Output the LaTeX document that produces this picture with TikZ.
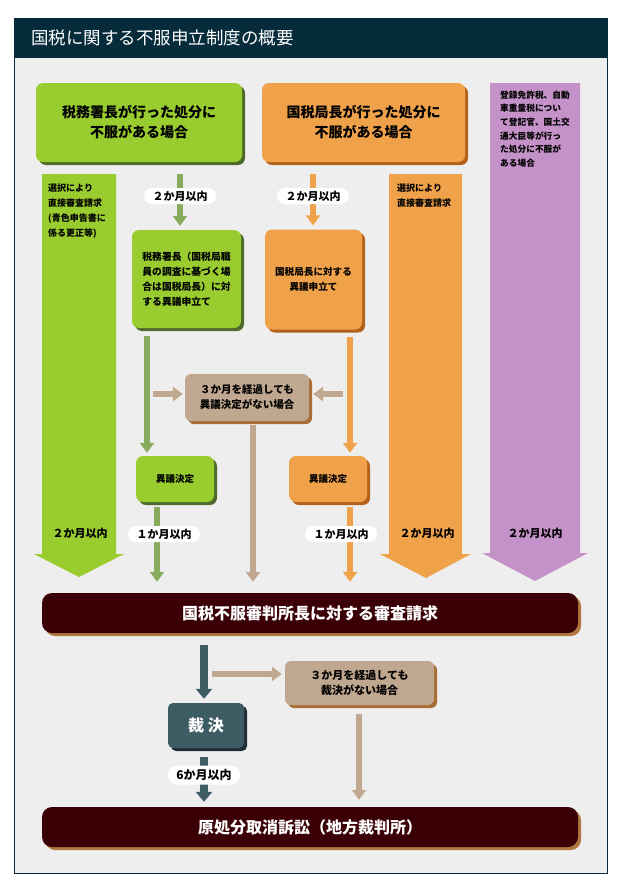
\documentclass[tikz,border=0pt]{standalone}
\usepackage{fontspec}
\setmainfont{Noto Sans CJK JP}
\usetikzlibrary{arrows.meta,shadows,calc}
\definecolor{bgc}{HTML}{EEEEEE}
\definecolor{hdr}{HTML}{062C3C}
\definecolor{gfill}{HTML}{99CC2E}
\definecolor{gshad}{HTML}{4E6B2C}
\definecolor{garr}{HTML}{88AA5C}
\definecolor{ofill}{HTML}{F0A24A}
\definecolor{oshad}{HTML}{B5611E}
\definecolor{pfill}{HTML}{C492C9}
\definecolor{tfill}{HTML}{C0A78F}
\definecolor{tshad}{HTML}{A76E36}
\definecolor{dbar}{HTML}{3A0006}
\definecolor{dshad}{HTML}{B07840}
\definecolor{tealc}{HTML}{3E5C64}
\definecolor{tealshad}{HTML}{1E3035}
\newcommand\fsz[2]{\fontsize{#1}{#2}\selectfont\bfseries}
\begin{document}
\begin{tikzpicture}[x=1pt,y=-1pt,
  box/.style={rounded corners=7pt,inner sep=0pt,align=center},
  shad/.style={drop shadow={shadow xshift=3pt,shadow yshift=-3pt,fill=#1,opacity=1}},
  gbox/.style={box,fill=gfill,shad=gshad},
  obox/.style={box,fill=ofill,shad=oshad},
  tbox/.style={box,fill=tfill,shad=tshad,rounded corners=6pt},
  dbox/.style={box,fill=dbar,shad=dshad,rounded corners=10pt,text=white,minimum width=536pt,minimum height=40pt,font=\fsz{16}{16}},
  conn/.style={line width=6.5pt,-{Triangle[width=14pt,length=10pt]}},
  tconn/.style={line width=8pt,-{Triangle[width=16pt,length=10pt]}},
  pill/.style={fill=white,rounded corners=8pt,minimum width=72pt,minimum height=16pt,inner sep=0pt,font=\fsz{11}{11}},
  atxt/.style={inner sep=0pt,align=left,anchor=north west}
]
\useasboundingbox (0,0) rectangle (620,889);
\fill[white] (0,0) rectangle (620,889);
% frame
\fill[bgc] (14,18) rectangle (607.5,873);
\fill[hdr] (14,18) rectangle (607.5,57.5);
\draw[hdr,line width=1pt] (14,18) rectangle (607.5,873);
\node[anchor=west,inner sep=0pt,text=white,font=\fontsize{17.5}{17.5}\selectfont] (title) at (31,37.5) {国税に関する不服申立制度の概要};

% fat arrows
\fill[gfill] (42,174) -- (116,174) -- (116,554) -- (124,554) -- (79,577) -- (34,554) -- (42,554) -- cycle;
\fill[ofill] (389,174) -- (462,174) -- (462,554) -- (471,554) -- (426,578) -- (380,554) -- (389,554) -- cycle;
\fill[pfill] (490,83) -- (580,83) -- (580,553) -- (588,553) -- (535,581) -- (482,553) -- (490,553) -- cycle;
\node[atxt,font=\fsz{9}{15}] (gtxt) at (48,184) {選択により\\直接審査請求\\(青色申告書に\\係る更正等)};
\node[atxt,font=\fsz{9}{15}] (otxt) at (397,184) {選択により\\直接審査請求};
\node[atxt,font=\fsz{8.7}{13.7}] (ptxt) at (500,90.5) {登録免許税、自動\\車重量税につい\\て登記官、国土交\\通大臣等が行っ\\た処分に不服が\\ある場合};
\node[inner sep=0pt,font=\fsz{11}{11}] (g2m) at (80,533) {２か月以内};
\node[inner sep=0pt,font=\fsz{11}{11}] (o2m) at (427,533) {２か月以内};
\node[inner sep=0pt,font=\fsz{11}{11}] (p2m) at (535,533) {２か月以内};

% boxes
\node[gbox,minimum width=206pt,minimum height=79pt,font=\fsz{14}{20}] (g1) at (139,122.5) {税務署長が行った処分に\\不服がある場合};
\node[obox,minimum width=203pt,minimum height=79pt,font=\fsz{14}{20}] (o1) at (363.5,122.5) {国税局長が行った処分に\\不服がある場合};
\node[gbox,minimum width=109pt,minimum height=98pt,align=left,font=\fsz{9.8}{15}] (g2) at (186.5,279) {税務署長（国税局職\\員の調査に基づく場\\合は国税局長）に対\\する異議申立て};
\node[obox,minimum width=97pt,minimum height=100pt,font=\fsz{9.6}{15}] (o2) at (313.5,279.5) {国税局長に対する\\異議申立て};
\node[tbox,minimum width=124pt,minimum height=47pt,font=\fsz{10.5}{15}] (tan1) at (247,397.5) {３か月を経過しても\\異議決定がない場合};
\node[gbox,minimum width=78pt,minimum height=46pt,font=\fsz{9.5}{9.5}] (g3) at (175,479) {異議決定};
\node[obox,minimum width=78pt,minimum height=46pt,font=\fsz{9.5}{9.5}] (o3) at (328,479) {異議決定};
\node[dbox] (bar1) at (310,613) {国税不服審判所長に対する審査請求};
\node[tbox,minimum width=149pt,minimum height=44pt,font=\fsz{11}{14.5}] (tan2) at (359.5,683) {３か月を経過しても\\裁決がない場合};
\node[box,fill=tealc,shad=tealshad,rounded corners=5pt,text=white,minimum width=76pt,minimum height=45pt,font=\fsz{16}{16}] (sai) at (206,725.5) {裁 決};
\node[dbox] (bar2) at (310,827) {原処分取消訴訟（地方裁判所）};

% connectors
\coordinate (xg1) at (180,0);
\coordinate (xo1) at (313,0);
\coordinate (xg2) at (147,0);
\coordinate (xo2) at (350,0);
\coordinate (xt1) at (253,0);
\coordinate (xg3) at (157,0);
\coordinate (xs) at (204,0);
\coordinate (xt2) at (359,0);
\draw[conn,garr] ($(g1.south -| xg1)+(0,12)$) -- ($(g2.north -| xg1)+(0,-4)$);
\node[pill] (pl1) at (180,196) {２か月以内};
\draw[conn,ofill] ($(o1.south -| xo1)+(0,12)$) -- ($(o2.north -| xo1)+(0,-4)$);
\node[pill] (pl2) at (313,196) {２か月以内};
\draw[conn,garr] ($(g2.south -| xg2)+(0,8)$) -- ($(g3.north -| xg2)+(0,-3)$);
\draw[conn,ofill] ($(o2.south -| xo2)+(0,7)$) -- ($(o3.north -| xo2)+(0,-3)$);
\coordinate (bl) at (153,394);
\coordinate (br) at (343,394);
\draw[conn,tfill] (bl) -- ($(tan1.west |- bl)+(-2,0)$);
\draw[conn,tfill] (br) -- ($(tan1.east |- br)+(4,0)$);
\draw[conn,tfill] ($(tan1.south -| xt1)+(0,4)$) -- ($(bar1.north -| xt1)+(0,-11)$);
\draw[conn,garr] ($(g3.south -| xg3)+(0,5)$) -- ($(bar1.north -| xg3)+(0,-11)$);
\node[pill] (pl3) at (164,534) {１か月以内};
\draw[conn,ofill] ($(o3.south -| xo2)+(0,5)$) -- ($(bar1.north -| xo2)+(0,-11)$);
\node[pill] (pl4) at (341,534) {１か月以内};
\draw[tconn,tealc] ($(bar1.south -| xs)+(0,12)$) -- ($(sai.north -| xs)+(0,-4)$);
\coordinate (bt) at (212,674);
\draw[conn,tfill] (bt) -- ($(tan2.west |- bt)+(-3,0)$);
\draw[conn,tfill] ($(tan2.south -| xt2)+(0,9)$) -- ($(bar2.north -| xt2)+(0,-7)$);
\draw[tconn,tealc] ($(sai.south -| xs)+(0,9)$) -- ($(bar2.north -| xs)+(0,-5)$);
\node[pill,minimum height=19pt,rounded corners=9pt,font=\fsz{12}{12}] (pl5) at (204,775) {6か月以内};
\end{tikzpicture}
\end{document}
